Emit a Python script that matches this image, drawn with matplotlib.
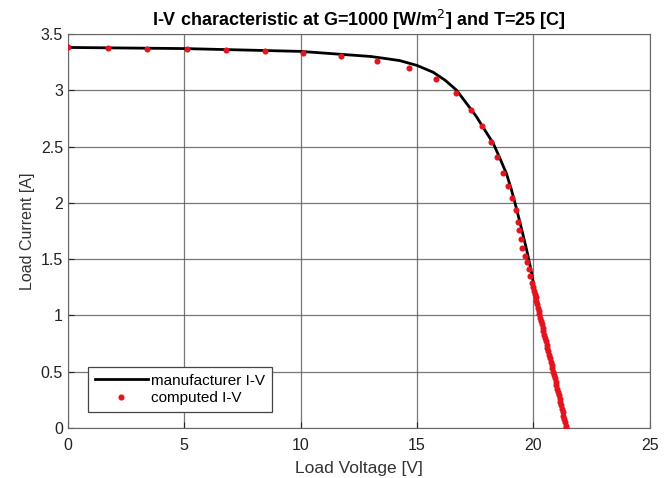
import matplotlib.pyplot as plt

plt.rcParams['font.family'] = ['Liberation Sans', 'DejaVu Sans']

# manufacturer I-V curve
v_man = [0, 5, 10, 12, 13, 13.7, 14.26, 15.0, 15.69, 16.2, 16.7, 17.1, 17.55, 17.9, 18.27, 18.55,
         18.84, 19.05, 19.27, 19.5, 19.7, 19.88, 20.05, 20.27, 20.85, 21.42]
i_man = [3.38, 3.37, 3.345, 3.315, 3.30, 3.28, 3.263, 3.22, 3.16, 3.09, 3.0, 2.89, 2.766, 2.65, 2.53, 2.4,
         2.26, 2.12, 1.95, 1.76, 1.59, 1.42, 1.23, 1.0, 0.5, 0.0]

# computed I-V points
v_comp = [0.0, 1.72, 3.4, 5.1, 6.78, 8.45, 10.12, 11.73, 13.27, 14.65, 15.81, 16.67, 17.31, 17.78,
          18.17, 18.43, 18.69, 18.9, 19.07, 19.24, 19.32, 19.39, 19.46, 19.53, 19.63, 19.72, 19.80,
          19.87, 19.94,
          19.98, 20.02, 20.05, 20.09, 20.12, 20.16, 20.19, 20.22, 20.26, 20.29, 20.33, 20.36, 20.40,
          20.43, 20.47, 20.50, 20.53, 20.57, 20.60, 20.64, 20.67, 20.71, 20.74, 20.78, 20.81, 20.85,
          20.88, 20.91, 20.95, 20.98, 21.02, 21.05, 21.09, 21.12, 21.16, 21.19, 21.22, 21.26, 21.29,
          21.33, 21.36, 21.40, 21.42]
i_comp = [3.38, 3.375, 3.37, 3.365, 3.355, 3.345, 3.33, 3.30, 3.26, 3.20, 3.10, 2.976, 2.825, 2.683,
          2.54, 2.41, 2.265, 2.15, 2.04, 1.94, 1.83, 1.76, 1.68, 1.60, 1.53, 1.47, 1.41,
          1.35, 1.29,
          1.25, 1.22, 1.19, 1.16, 1.13, 1.10, 1.07, 1.04, 1.01, 0.98, 0.95, 0.92, 0.89,
          0.86, 0.83, 0.80, 0.77, 0.74, 0.71, 0.68, 0.65, 0.62, 0.59, 0.56, 0.53, 0.50,
          0.47, 0.44, 0.41, 0.38, 0.35, 0.32, 0.29, 0.26, 0.23, 0.20, 0.17, 0.14, 0.11,
          0.08, 0.05, 0.02, 0.0]

fig = plt.figure(figsize=(6.72, 4.78), dpi=100)
ax = fig.add_axes([0.101, 0.1046, 0.866, 0.8244])

ax.plot(v_man, i_man, color='black', lw=2, label='manufacturer I-V', zorder=3,
        solid_joinstyle='round')
ax.plot(v_comp, i_comp, 'o', color='#e3141e', ms=4.4, mec='none', label='computed I-V', zorder=4)

ax.set_xlim(0, 25)
ax.set_ylim(0, 3.5)
ax.set_xticks([0, 5, 10, 15, 20, 25])
ax.set_yticks([0, 0.5, 1, 1.5, 2, 2.5, 3, 3.5])
ax.set_yticklabels(['0', '0.5', '1', '1.5', '2', '2.5', '3', '3.5'])
ax.grid(True, color='#555555', lw=0.9, alpha=0.8)
ax.set_axisbelow(True)
for s in ax.spines.values():
    s.set_color('#666666')
ax.tick_params(direction='in', labelsize=11.5, colors='#222222', length=4)
ax.tick_params(axis='x', pad=7)

ax.set_xlabel('Load Voltage [V]', fontsize=12.5, color='#333333', labelpad=6)
ax.set_ylabel('Load Current [A]', fontsize=11.5, color='#333333')
ax.set_title('I-V characteristic at G=1000 [W/m$^{2}$] and T=25 [C]', fontsize=13, fontweight='bold', pad=6)

leg = ax.legend(loc='lower left', bbox_to_anchor=(0.034, 0.04), borderaxespad=0, fontsize=11,
                fancybox=False, framealpha=1, edgecolor='#444444', borderpad=0.45, handlelength=3.5,
                labelspacing=0.25, handletextpad=0.2)
leg.get_frame().set_linewidth(0.9)

fig.savefig('out.png', dpi=100)
